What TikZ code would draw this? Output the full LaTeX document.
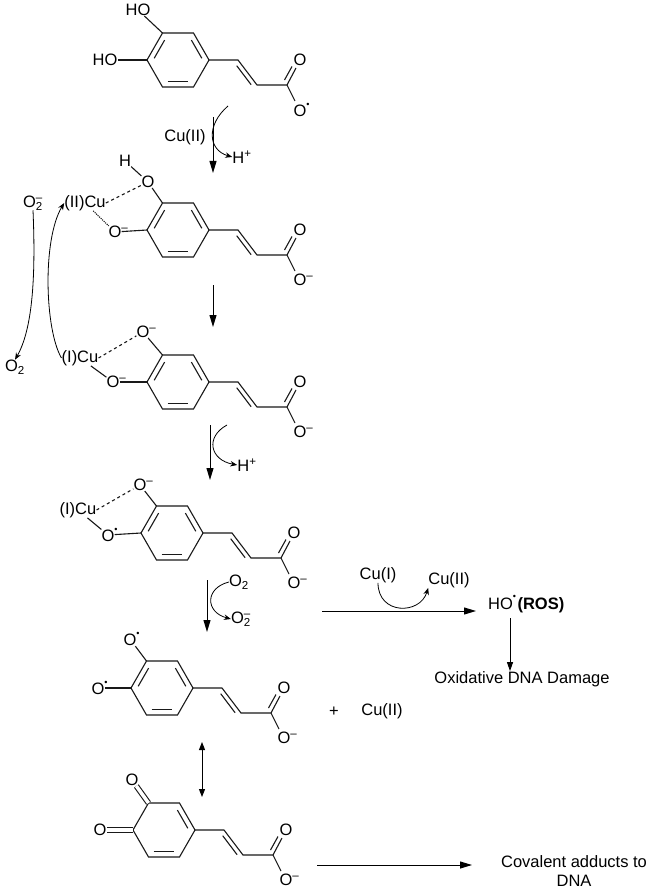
\documentclass[tikz,border=0pt]{standalone}
\usepackage{fontspec}
\setmainfont{Liberation Sans}
\usetikzlibrary{arrows.meta,calc}

\tikzset{
  bond/.style={line width=1.1pt, gray!20!black},
  atom/.style={inner sep=0pt, font=\fontsize{16.5}{19}\selectfont},
  lbl/.style={inner sep=0pt, font=\fontsize{16.5}{19}\selectfont},
  rxn/.style={line width=1pt, -{Triangle[length=12pt,width=7pt]}},
  curly/.style={line width=0.8pt, -{Stealth[length=7pt,width=5.5pt]}},
}
\newcommand{\chgneg}{\rlap{\textsuperscript{--}}}
\newcommand{\chgrad}{\rlap{\raisebox{1.1ex}{\scalebox{0.55}{•}}}}

% ring + side chain of one caffeate, #3=1 aromatic, 0 quinone, #5 charge on carboxylate
\newcommand{\caffeate}[5]{%
  \begin{scope}[shift={(#1,#2)}]
    \draw[bond] (31,0) -- (15.5,-27) -- (-15.5,-27) -- (-31,0) -- (-15.5,27) -- (15.5,27) -- cycle;
    \begin{scope}[scale=0.8]
      \draw[bond,shorten <=2pt,shorten >=2pt] (31,0) -- (15.5,-27);
      \draw[bond,shorten <=2pt,shorten >=2pt] (-15.5,27) -- (15.5,27);
      \ifnum#3=1 \draw[bond,shorten <=2pt,shorten >=2pt] (-15.5,-27) -- (-31,0); \fi
    \end{scope}
    \draw[bond] (31,0) -- (60,0) -- (79,25) -- (109,25) -- (118,8);
    \draw[bond] (109,25) -- (117,41);
    \draw[bond] (58.7,5.7) -- (73.1,24.7);
    \draw[bond] (106.5,20) -- (114,6.5);
    \node[atom] (#4-o1) at (122,0) {O};
    \node[atom] (#4-o2) at (122,50) {O#5};
    \coordinate (#4-tl) at (-15.5,-27);
    \coordinate (#4-l) at (-31,0);
  \end{scope}}

\begin{document}
\begin{tikzpicture}[x=1pt,y=-1pt]
\useasboundingbox (0,0) rectangle (653,890);

% caffeic acid
\caffeate{178}{60}{1}{ma}{\chgrad}
\node[atom] (ma-oh1) at (138,10) {HO};
\node[atom] (ma-oh2) at (105,60) {HO};
\draw[bond] (ma-tl) -- (ma-oh1);
\draw[bond] (ma-l) -- (ma-oh2);

% Cu(II) complex
\caffeate{178}{230}{1}{mb}{\chgneg}
\node[atom] (mb-o1) at (148,182) {O};
\node[atom] (mb-h) at (125,161) {H};
\node[atom] (mb-o2) at (115,232) {O\chgneg};
\node[atom] (mb-cu) at (85,203) {(II)Cu};
\draw[bond] (mb-tl) -- (mb-o1);
\draw[bond] (mb-l) -- (mb-o2);
\draw[bond] (mb-o1) -- (mb-h);
\draw[bond,dashed] (mb-cu.east) -- (mb-o1);
\draw[bond,densely dotted] (mb-cu) -- (mb-o2);

% Cu(I) complex
\caffeate{178}{382}{1}{mc}{\chgneg}
\node[atom] (mc-o1) at (143,332) {O\chgneg};
\node[atom] (mc-o2) at (113,382) {O\chgneg};
\node[atom] (mc-cu) at (80,358) {(I)Cu};
\draw[bond] (mc-tl) -- (mc-o1);
\draw[bond] (mc-l) -- (mc-o2);
\draw[bond,dashed] (mc-cu.east) -- (mc-o1);
\draw[bond] (mc-cu) -- (mc-o2);

% semiquinone complex
\caffeate{172}{533}{1}{md}{\chgneg}
\node[atom] (md-o1) at (140,485) {O\chgneg};
\node[atom] (md-o2) at (108,535) {O\chgrad};
\node[atom] (md-cu) at (78,510) {(I)Cu};
\draw[bond] (md-tl) -- (md-o1);
\draw[bond] (md-l) -- (md-o2);
\draw[bond,dashed] (md-cu.east) -- (md-o1);
\draw[bond] (md-cu) -- (md-o2);

% diradical
\caffeate{162}{688}{1}{me}{\chgneg}
\node[atom] (me-o1) at (130,639) {O\chgrad};
\node[atom] (me-o2) at (98,688) {O\chgrad};
\draw[bond] (me-tl) -- (me-o1);
\draw[bond] (me-l) -- (me-o2);

% quinone
\caffeate{164}{830}{0}{mf}{\chgneg}
\node[atom] (mf-o1) at (132,780) {O};
\node[atom] (mf-o2) at (100,830) {O};
\draw[bond,double,double distance=3.5pt] (mf-tl) -- (mf-o1);
\draw[bond,double,double distance=3.5pt] (mf-l) -- (mf-o2);

% reaction arrows
\coordinate (a1s) at (213,117); \coordinate (a1e) at (213,173);
\draw[rxn] (a1s) -- (a1e);
\node[lbl] (cu1) at (185,137) {Cu(II)};
\node[lbl] (h1) at (242,157) {H\textsuperscript{+}};
\draw[curly] (228,106) .. controls (206,125) and (208,150) .. (h1.west);

\coordinate (a2s) at (213,285); \coordinate (a2e) at (213,327);
\draw[rxn] (a2s) -- (a2e);

\coordinate (a3s) at (210,425); \coordinate (a3e) at (210,480);
\draw[rxn] (a3s) -- (a3e);
\node[lbl] (h2) at (247,465) {H\textsuperscript{+}};
\draw[curly] (227,425) .. controls (205,437) and (210,460) .. (h2.west);

\coordinate (a4s) at (207,580); \coordinate (a4e) at (207,632);
\draw[rxn] (a4s) -- (a4e);
\node[lbl] (o2a) at (239,582) {O\textsubscript{2}};
\node[lbl] (o2b) at (241,619) {O\rlap{\textsuperscript{--}}\textsubscript{2}};
\draw[curly] (o2a.west) .. controls (205,588) and (205,612) .. (o2b.west);

% O2 cycle
\node[lbl] (o2c) at (33,203) {O\rlap{\textsuperscript{--}}\textsubscript{2}};
\node[lbl] (o2d) at (15,367) {O\textsubscript{2}};
\draw[curly] (o2c.south) .. controls (36,280) and (32,330) .. (o2d.north);
\draw[curly] (mc-cu.west) .. controls (45,330) and (42,240) .. (mb-cu.west);

% ROS branch
\node[lbl,anchor=west] (ros) at (488,604) {HO\chgrad\ \textbf{(ROS)}};
\coordinate (hs) at (322,611);
\draw[rxn] (hs) -- (476,611);
\node[lbl] (cua) at (378,575) {Cu(I)};
\node[lbl] (cub) at (449,580) {Cu(II)};
\draw[curly] (cua.south) .. controls (378,615) and (420,615) .. (cub.south west);
\node[lbl] (dmg) at (522,679) {Oxidative DNA Damage};
\draw[line width=1pt,-{Triangle[length=9pt,width=6pt]}] (510,618) -- (dmg.north -| 510,0);

\node[lbl] at (334,712) {+};
\node[lbl] (cuc) at (382,711) {Cu(II)};

\coordinate (ds) at (202,742); \coordinate (de) at (202,797);
\draw[line width=1pt,{Triangle[length=8pt,width=6pt]}-{Triangle[length=8pt,width=6pt]}] (ds) -- (de);

\node[lbl,align=center] (cov) at (574,871) {Covalent adducts to\\DNA};
\coordinate (bs) at (317,865);
\draw[rxn] (bs) -- (472,865);
\end{tikzpicture}
\end{document}
